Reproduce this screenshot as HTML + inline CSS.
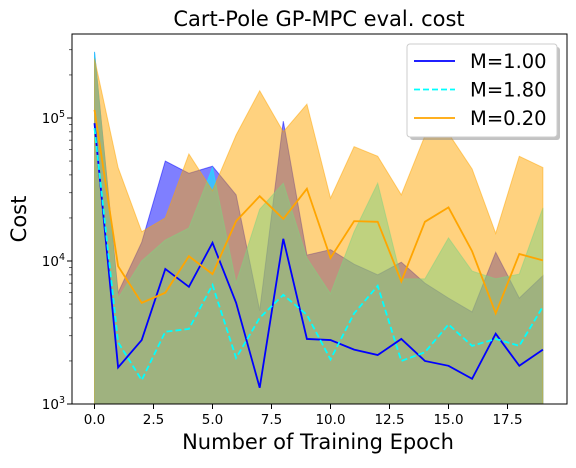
<!DOCTYPE html>
<html><head><meta charset="utf-8"><style>
body{margin:0;background:#fff;width:576px;height:463px;overflow:hidden;font-family:"Liberation Sans","DejaVu Sans",sans-serif}
</style></head><body>
<svg id="chart" width="576" height="463" xmlns="http://www.w3.org/2000/svg" font-family="DejaVu Sans, Liberation Sans, sans-serif"></svg>
<script>
const epochs=[0,1,2,3,4,5,6,7,8,9,10,11,12,13,14,15,16,17,18,19];
const meanM100=[92000,1800,2800,8800,6600,13400,5100,1300,14300,2850,2800,2400,2200,2850,2000,1850,1500,3100,1850,2400];
const upperM100=[290000,6000,13500,50000,41000,46000,29000,4500,95000,11000,12000,9500,8000,9800,7000,5500,4400,11500,5500,7900];
const meanM180=[85000,2700,1470,3200,3350,6800,2100,4000,5800,4200,2050,4300,6700,2000,2300,3600,2550,2850,2550,4800];
const upperM180=[290000,5500,10000,14000,17000,45000,7000,23000,35000,10500,5900,16000,35000,7500,7500,14500,8500,7500,8100,23500];
const meanM020=[114000,9200,5100,6000,10800,8100,19000,28400,19700,32000,10500,19000,18800,7200,18800,23700,11700,4300,11200,10100];
const upperM020=[260000,45000,16000,20000,56000,31000,76000,155000,80000,125000,27500,63000,54000,29000,75000,78000,44000,15600,54000,45000];
const lowerAll=[950,950,950,950,950,950,950,950,950,950,950,950,950,950,950,950,950,950,950,950];
const xTicks=[0,2.5,5,7.5,10,12.5,15,17.5];
const xTickLabels=["0.0","2.5","5.0","7.5","10.0","12.5","15.0","17.5"];
const yDecades=[3,4,5];

const L=72,R=567,T=34,B=404;
const X=v=>94.5+v*23.6;
const Y=v=>B-(Math.log10(v)-3)*143;
const NS="http://www.w3.org/2000/svg";
const svg=document.getElementById('chart');
function mk(tag,attrs,parent){const e=document.createElementNS(NS,tag);for(const k in attrs)e.setAttribute(k,attrs[k]);(parent||svg).appendChild(e);return e;}

const defs=mk('defs',{});
const cp=mk('clipPath',{id:'clip'},defs);
mk('rect',{x:L,y:T,width:R-L,height:B-T},cp);
const plot=mk('g',{'clip-path':'url(#clip)'});



function band(up,lo,color,name){
  let d=epochs.map((e,i)=>(i?'L':'M')+X(e)+','+Y(up[i])).join('');
  for(let i=epochs.length-1;i>=0;i--)d+='L'+X(epochs[i])+','+Y(lo[i]);
  const p=mk('path',{d:d+'Z',fill:color,'fill-opacity':0.5,stroke:color,'stroke-opacity':0.5,'stroke-width':1},plot);
  
  
}
function line(vals,color,dash,name){
  const d=epochs.map((e,i)=>(i?'L':'M')+X(e)+','+Y(vals[i])).join('');
  const p=mk('path',{d:d,fill:'none',stroke:color,'stroke-width':1.8,'stroke-dasharray':dash||'none'},plot);
  
  
}
band(upperM100,lowerAll,'#0000ff','band-m100');
band(upperM180,lowerAll,'#00ffff','band-m180');
band(upperM020,lowerAll,'#ffa500','band-m020');
line(meanM100,'#0000ff',null,'line-m100');
line(meanM180,'#00ffff','6,3','line-m180');
line(meanM020,'#ffa500',null,'line-m020');

const frame=mk('rect',{x:L,y:T,width:R-L,height:B-T,fill:'none',stroke:'#000','stroke-width':1});



xTicks.forEach((t,i)=>{
  mk('line',{x1:X(t),x2:X(t),y1:B,y2:B+5,stroke:'#000'});
  const tx=mk('text',{x:X(t),y:B+20,'text-anchor':'middle','font-size':13.5});
  tx.textContent=xTickLabels[i];
  
  
});
yDecades.forEach(d=>{
  const y=Y(Math.pow(10,d));
  mk('line',{x1:L-5,x2:L,y1:y,y2:y,stroke:'#000'});
  const tx=mk('text',{x:L-7,y:y+5,'text-anchor':'end','font-size':13.5});
  tx.innerHTML='10<tspan dy="-6" font-size="9.5">'+d+'</tspan>';
  
  
  if(d<5)for(let m=2;m<10;m++){const yy=Y(m*Math.pow(10,d));mk('line',{x1:L-3,x2:L,y1:yy,y2:yy,stroke:'#000','stroke-width':0.6});}
});
for(let m=2;m<4;m++){const yy=Y(m*1e5);if(yy>T)mk('line',{x1:L-3,x2:L,y1:yy,y2:yy,stroke:'#000','stroke-width':0.6});}

const title=mk('text',{x:319,y:26,'text-anchor':'middle','font-size':21});
title.textContent='Cart-Pole GP-MPC eval. cost';


const xl=mk('text',{x:318,y:449,'text-anchor':'middle','font-size':21});
xl.textContent='Number of Training Epoch';


const yl=mk('text',{x:26,y:219,'text-anchor':'middle','font-size':21,transform:'rotate(-90 26 219)'});
yl.textContent='Cost';



const lg=mk('g',{});


mk('rect',{x:410,y:47,width:150,height:93,rx:3,fill:'#888','fill-opacity':0.5},lg);
mk('rect',{x:407,y:44,width:150,height:93,rx:3,fill:'#fff',stroke:'#ccc'},lg);
const entries=[['M=1.00','#0000ff',null],['M=1.80','#00ffff','6,3'],['M=0.20','#ffa500',null]];
entries.forEach((e,i)=>{
  const y=61+i*28.5;
  const g=mk('g',{},lg);
  
  
  mk('line',{x1:414,x2:455,y1:y,y2:y,stroke:e[1],'stroke-width':1.8,'stroke-dasharray':e[2]||'none'},g);
  const t=mk('text',{x:470,y:y+7,'font-size':19.5},g);
  t.textContent=e[0];
});
</script>
</body></html>
